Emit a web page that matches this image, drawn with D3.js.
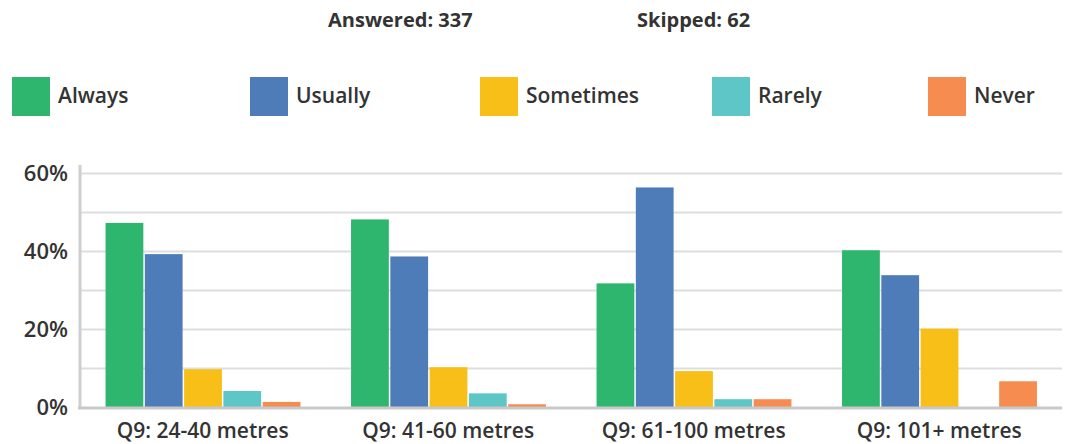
<!DOCTYPE html>
<html>
<head>
<meta charset="utf-8">
<script src="https://cdn.jsdelivr.net/npm/d3@7"></script>
<style>
	body { margin: 0; background: #fff; }
	svg text { font-family: "Open Sans", sans-serif; font-weight: 600; fill: #333; }
	.grid line { stroke: #dedede; stroke-width: 2; }
	.grid path { display: none; }
</style>
</head>
<body>
<div id="chart"></div>
<script>
	var groups = ["Q9: 24-40 metres", "Q9: 41-60 metres", "Q9: 61-100 metres", "Q9: 101+ metres"];
	var series = ["Always", "Usually", "Sometimes", "Rarely", "Never"];
	var colors = ["#2eb66e", "#4e7cb8", "#f8bf19", "#5ec6c6", "#f68c50"];

	// percentages per group, in series order
	var always    = [47.2, 48.1, 31.7, 40.2];
	var usually   = [39.2, 38.6, 56.3, 33.8];
	var sometimes = [9.7, 10.2, 9.2, 20.1];
	var rarely    = [4.1, 3.5, 2.0, 0];
	var never     = [1.3, 0.7, 2.0, 6.6];

	var yTicks = [0, 20, 40, 60];
	var answered = 337, skipped = 62;

	var values = [always, usually, sometimes, rarely, never];

	var width = 1067, height = 444;
	var margin = {top: 173, right: 5, bottom: 37, left: 80};
	var w = width - margin.left - margin.right,
		h = height - margin.top - margin.bottom;

	var svg = d3.select("#chart").append("svg")
		.attr("width", width)
		.attr("height", height);

	// header
	svg.append("text").attr("x", 328).attr("y", 27).style("font-size", "20px").style("font-weight", 700).text("Answered: " + answered);
	svg.append("text").attr("x", 637).attr("y", 27).style("font-size", "20px").style("font-weight", 700).text("Skipped: " + skipped);

	// legend
	var legendX = [12, 250, 480, 712, 928];
	var legend = svg.selectAll("g.legend")
		.data(series)
		.enter()
		.append("g")
		.attr("class", "legend")
		.attr("transform", function(d, i) { return "translate(" + legendX[i] + ",77)"; });

	legend.append("rect")
		.attr("width", 38)
		.attr("height", 39)
		.attr("fill", function(d, i) { return colors[i]; });

	legend.append("text")
		.attr("x", 46)
		.attr("y", 26)
		.style("font-size", "21px")
		.text(function(d) { return d; });

	var x0 = d3.scaleBand().domain(groups).range([0, w]).paddingInner(0.2).paddingOuter(0.1);
	var x1 = d3.scaleBand().domain(series).range([0, x0.bandwidth()]);
	var y = d3.scaleLinear().domain([0, 60]).range([h, 0]);

	var g = svg.append("g").attr("transform", "translate(" + margin.left + "," + margin.top + ")");

	// gridlines every 10%
	g.append("g")
		.attr("class", "grid")
		.call(d3.axisLeft(y).tickValues(d3.range(10, 61, 10)).tickSize(-w).tickFormat(""));

	// bars
	var group = g.selectAll("g.group")
		.data(groups)
		.enter()
		.append("g")
		.attr("class", "group")
		.attr("transform", function(d) { return "translate(" + x0(d) + ",0)"; });

	group.selectAll("rect")
		.data(function(d, gi) { return series.map(function(s, si) { return {s: s, i: si, v: values[si][gi]}; }); })
		.enter()
		.append("rect")
		.attr("x", function(d) { return x1(d.s) + 1; })
		.attr("y", function(d) { return y(d.v); })
		.attr("width", x1.bandwidth() - 1.5)
		.attr("height", function(d) { return h - y(d.v); })
		.attr("fill", function(d) { return colors[d.i]; });

	// axis lines
	g.append("line")
		.attr("x1", 0).attr("x2", 0)
		.attr("y1", -8).attr("y2", h + 2)
		.attr("stroke", "#cfcfcf").attr("stroke-width", 3);
	g.append("line")
		.attr("x1", -2).attr("x2", w)
		.attr("y1", h + 1).attr("y2", h + 1)
		.attr("stroke", "#c8c8c8").attr("stroke-width", 3);

	// y tick labels
	g.selectAll("text.ytick")
		.data(yTicks)
		.enter()
		.append("text")
		.attr("class", "ytick")
		.attr("x", -12)
		.attr("y", function(d) { return y(d) + 8; })
		.attr("text-anchor", "end")
		.style("font-size", "22px")
		.text(function(d) { return d + "%"; });

	// x labels
	g.selectAll("text.xtick")
		.data(groups)
		.enter()
		.append("text")
		.attr("class", "xtick")
		.attr("x", function(d) { return x0(d) + x0.bandwidth() / 2; })
		.attr("y", h + 31)
		.attr("text-anchor", "middle")
		.style("font-size", "21px")
		.text(function(d) { return d; });
</script>
</body>
</html>
